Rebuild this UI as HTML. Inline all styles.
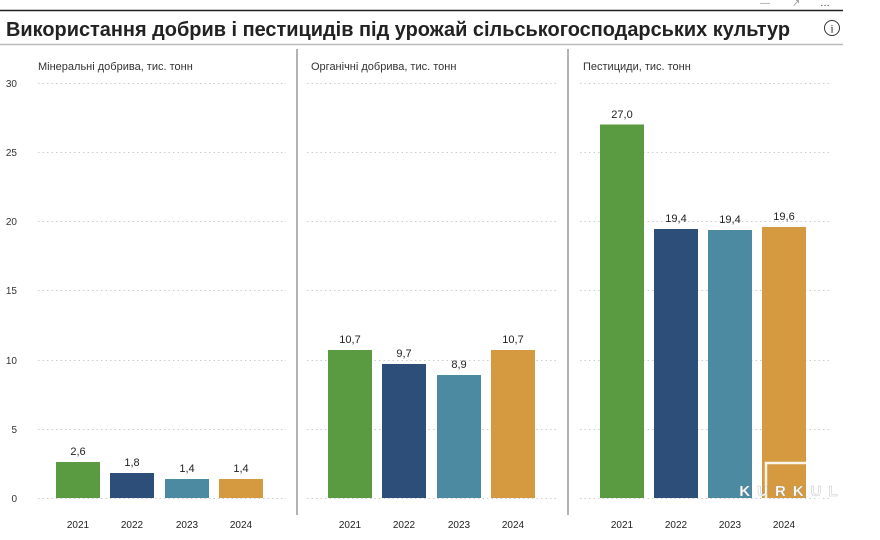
<!DOCTYPE html>
<html><head><meta charset="utf-8"><style>
body{margin:0;background:#fff;width:880px;height:540px;overflow:hidden}
svg{display:block;font-family:"Liberation Sans",sans-serif}
</style></head><body>
<svg width="880" height="540" xmlns="http://www.w3.org/2000/svg">
<g fill="#999" font-size="10"><text x="760" y="6">—</text><text x="792" y="6">↗</text><text x="820" y="6" fill="#333">…</text></g>
<line x1="0" y1="10.5" x2="843" y2="10.5" stroke="#222" stroke-width="1.5"/>
<text x="6" y="36" font-size="20" font-weight="bold" fill="#222" textLength="784" lengthAdjust="spacingAndGlyphs">Використання добрив і пестицидів під урожай сільськогосподарських культур</text>
<circle cx="832" cy="28" r="7.5" fill="none" stroke="#333" stroke-width="1"/>
<text x="832" y="32.5" font-size="12" text-anchor="middle" fill="#333" font-family="Liberation Serif,serif">i</text>
<line x1="0" y1="44.5" x2="843" y2="44.5" stroke="#bbb" stroke-width="1.5"/>
<line x1="297" y1="49" x2="297" y2="515" stroke="#999" stroke-width="1.5"/>
<line x1="568" y1="49" x2="568" y2="515" stroke="#999" stroke-width="1.5"/>
<g font-size="11" fill="#333">
<text x="38" y="70">Мінеральні добрива, тис. тонн</text>
<text x="311" y="70">Органічні добрива, тис. тонн</text>
<text x="583" y="70">Пестициди, тис. тонн</text>
</g>
<g stroke="#ccc" stroke-dasharray="1.5,3" stroke-width="1">
<path d="M38 83.5H286M307 83.5H558M580 83.5H830"/>
<path d="M38 152.5H286M307 152.5H558M580 152.5H830"/>
<path d="M38 221.5H286M307 221.5H558M580 221.5H830"/>
<path d="M38 290.5H286M307 290.5H558M580 290.5H830"/>
<path d="M38 360.5H286M307 360.5H558M580 360.5H830"/>
<path d="M38 429.5H286M307 429.5H558M580 429.5H830"/>
<path d="M38 498.5H286M307 498.5H558M580 498.5H830"/>
</g>
<g font-size="10" fill="#333" text-anchor="end">
<text x="17" y="87">30</text><text x="17" y="156">25</text><text x="17" y="225">20</text>
<text x="17" y="294">15</text><text x="17" y="364">10</text><text x="17" y="433">5</text><text x="17" y="502">0</text>
</g>
<g>
<rect x="56" y="462" width="44" height="36" fill="#5a9a41"/>
<rect x="110" y="473" width="44" height="25" fill="#2d4e78"/>
<rect x="165" y="479" width="44" height="19" fill="#4b8aa0"/>
<rect x="219" y="479" width="44" height="19" fill="#d59a40"/>
<rect x="328" y="350" width="44" height="148" fill="#5a9a41"/>
<rect x="382" y="364" width="44" height="134" fill="#2d4e78"/>
<rect x="437" y="375" width="44" height="123" fill="#4b8aa0"/>
<rect x="491" y="350" width="44" height="148" fill="#d59a40"/>
<rect x="600" y="124.5" width="44" height="373.5" fill="#5a9a41"/>
<rect x="654" y="229" width="44" height="269" fill="#2d4e78"/>
<rect x="708" y="230" width="44" height="268" fill="#4b8aa0"/>
<rect x="762" y="227" width="44" height="271" fill="#d59a40"/>
</g>
<g font-size="11" fill="#222" text-anchor="middle">
<text x="78" y="455">2,6</text><text x="132" y="466">1,8</text><text x="187" y="472">1,4</text><text x="241" y="472">1,4</text>
<text x="350" y="343">10,7</text><text x="404" y="357">9,7</text><text x="459" y="368">8,9</text><text x="513" y="343">10,7</text>
<text x="622" y="118">27,0</text><text x="676" y="222">19,4</text><text x="730" y="223">19,4</text><text x="784" y="220">19,6</text>
</g>
<g font-size="10" fill="#222" text-anchor="middle">
<text x="78" y="528">2021</text><text x="132" y="528">2022</text><text x="187" y="528">2023</text><text x="241" y="528">2024</text>
<text x="350" y="528">2021</text><text x="404" y="528">2022</text><text x="459" y="528">2023</text><text x="513" y="528">2024</text>
<text x="622" y="528">2021</text><text x="676" y="528">2022</text><text x="730" y="528">2023</text><text x="784" y="528">2024</text>
</g>
<rect x="766" y="463" width="54" height="55" fill="none" stroke="#fff" stroke-width="2.5" opacity="0.9"/>
<text x="792" y="496" font-size="15" font-weight="bold" fill="#fff" text-anchor="middle" letter-spacing="7" stroke="#999" stroke-width="0.3">KURKUL</text>
</svg>
</body></html>
